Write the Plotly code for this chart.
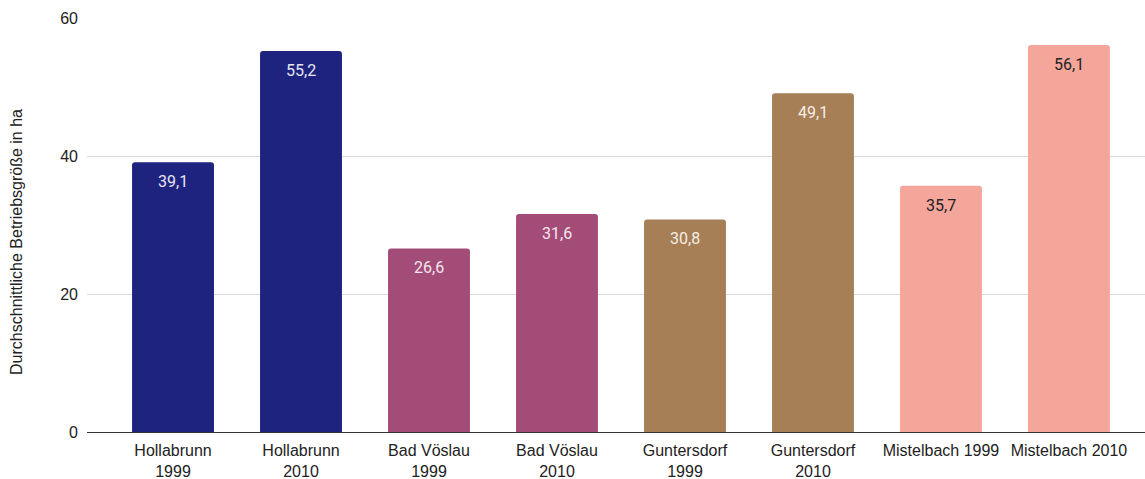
import plotly.graph_objects as go

categories = ["Hollabrunn 1999", "Hollabrunn 2010", "Bad Vöslau 1999", "Bad Vöslau 2010",
              "Guntersdorf 1999", "Guntersdorf 2010", "Mistelbach 1999", "Mistelbach 2010"]
tick_labels = ["Hollabrunn<br>1999", "Hollabrunn<br>2010", "Bad Vöslau<br>1999", "Bad Vöslau<br>2010",
               "Guntersdorf<br>1999", "Guntersdorf<br>2010", "Mistelbach 1999", "Mistelbach 2010"]
values = [39.1, 55.2, 26.6, 31.6, 30.8, 49.1, 35.7, 56.1]
y_title = "Durchschnittliche Betriebsgröße in ha"

bar_colors = ["#1e2380", "#1e2380", "#a44c78", "#a44c78",
              "#a67f56", "#a67f56", "#f4a69a", "#f4a69a"]
label_colors = ["#e6e6f0", "#e6e6f0", "#f4e6ee", "#f4e6ee",
                "#f6eee6", "#f6eee6", "#222222", "#222222"]

x_idx = list(range(len(categories)))

fig = go.Figure(go.Bar(
    x=x_idx,
    y=values,
    marker=dict(color=bar_colors, line=dict(width=0)),
    marker_cornerradius=3,
    hovertext=categories,
    width=0.64,
))

for i, v in enumerate(values):
    fig.add_annotation(
        x=i, y=v, text=f"{v:.1f}".replace(".", ","),
        showarrow=False, yanchor="top", yshift=-8,
        font=dict(family="Roboto", size=16, color=label_colors[i]),
    )

# vertical axis title, placed slightly below the middle of the plot area
fig.add_annotation(
    xref="paper", yref="paper", x=-0.0662, y=0.459,
    text=y_title, textangle=-90, showarrow=False,
    xanchor="center", yanchor="middle",
    font=dict(size=16, color="#222222"),
)

fig.update_layout(
    width=1145, height=479,
    margin=dict(l=87, r=0, t=18, b=47),
    paper_bgcolor="white", plot_bgcolor="white",
    showlegend=False,
    font=dict(family="Liberation Sans, Arial, sans-serif", size=16, color="#222222"),
    xaxis=dict(
        tickmode="array", tickvals=x_idx, ticktext=tick_labels,
        range=[-0.672, 7.594], showgrid=False, ticks="",
        showline=False, zeroline=False, ticklabelstandoff=7,
        tickfont=dict(size=16, color="#222222"),
    ),
    yaxis=dict(
        range=[0, 60], tickvals=[0, 20, 40, 60],
        showgrid=True, gridcolor="#d9d9d9", gridwidth=1,
        zeroline=True, zerolinecolor="#333333", zerolinewidth=1,
        showline=False, ticks="", ticklabelstandoff=8,
        tickfont=dict(size=16, color="#222222"),
    ),
)

fig.write_html("out.html")
